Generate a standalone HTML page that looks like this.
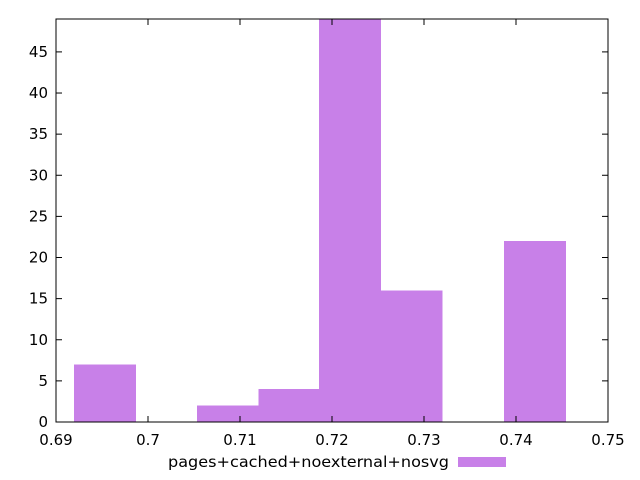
<!DOCTYPE html>
<html><head><meta charset="utf-8"><style>
body{margin:0;background:#fff}
svg{display:block;font-family:"DejaVu Sans",sans-serif;font-size:15px}
</style></head><body>
<svg width="640" height="480">
<g id="bars" shape-rendering="crispEdges"></g>
<g id="axes"></g>
<rect x="56" y="19" width="552" height="403" fill="none" stroke="#000" stroke-width="1"/>
<text x="449" y="467" text-anchor="end" textLength="281" lengthAdjust="spacingAndGlyphs">pages+cached+noexternal+nosvg</text>
<rect x="458" y="457" width="48" height="10" fill="#c880e8"/>
</svg>
<script>
const binStarts=[0.69196,0.6986,0.7053,0.7120,0.7186,0.7253,0.7320,0.7387];
const counts=[7,0,2,4,49,16,0,22];
const binWidth=0.00668;
const xTicks=[0.69,0.7,0.71,0.72,0.73,0.74,0.75];
const xTickLabels=["0.69","0.7","0.71","0.72","0.73","0.74","0.75"];
const yTicks=[0,5,10,15,20,25,30,35,40,45];
const xMin=0.69,xMax=0.75,yMin=0,yMax=49;
const L=56,R=608,T=19,B=422;
const sx=v=>L+(v-xMin)/(xMax-xMin)*(R-L);
const sy=v=>B-(v-yMin)/(yMax-yMin)*(B-T);
const NS="http://www.w3.org/2000/svg";
const bars=document.getElementById('bars'),axes=document.getElementById('axes');
binStarts.forEach((s,i)=>{
 if(!counts[i])return;
 const r=document.createElementNS(NS,'rect');
 r.setAttribute('x',sx(s));r.setAttribute('width',sx(s+binWidth)-sx(s)+0.5);
 r.setAttribute('y',sy(counts[i]));r.setAttribute('height',sy(0)-sy(counts[i]));
 r.setAttribute('fill','#c880e8');
 
 
 bars.appendChild(r);
});
function line(x1,y1,x2,y2){const l=document.createElementNS(NS,'line');l.setAttribute('x1',x1);l.setAttribute('y1',y1);l.setAttribute('x2',x2);l.setAttribute('y2',y2);l.setAttribute('stroke','#000');axes.appendChild(l);return l;}
function text(x,y,t,a){const e=document.createElementNS(NS,'text');e.setAttribute('x',x);e.setAttribute('y',y);e.setAttribute('text-anchor',a);e.textContent=t;axes.appendChild(e);return e;}
xTicks.forEach((v,i)=>{
 const x=sx(v);
 line(x,B,x,B-6);line(x,T,x,T+6);
 const t=text(x,445,xTickLabels[i],'middle');
 
 
});
yTicks.forEach(v=>{
 const y=sy(v);
 line(L,y,L+6,y);line(R,y,R-6,y);
 const t=text(L-8,y+5,String(v),'end');
 
 
});
</script>
</body></html>
